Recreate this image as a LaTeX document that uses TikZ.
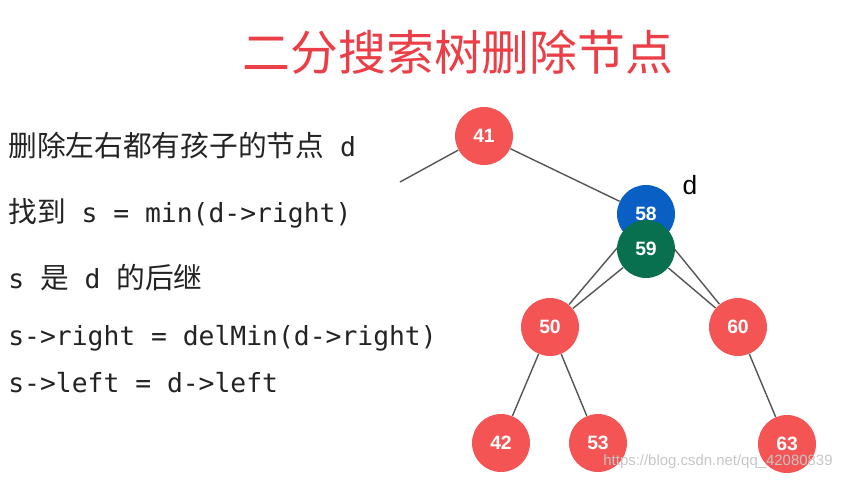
\documentclass[tikz,border=0pt]{standalone}
\usepackage{fontspec}
\setmainfont{Liberation Sans}
\setmonofont{DejaVu Sans Mono}
\newfontfamily\cjk[Scale=1.09]{Noto Sans CJK SC}
\usetikzlibrary{positioning,backgrounds}

\definecolor{titlered}{RGB}{236,62,70}
\definecolor{nodered}{RGB}{245,84,84}
\definecolor{nodeblue}{RGB}{10,95,196}
\definecolor{nodegreen}{RGB}{8,112,78}
\definecolor{textgray}{RGB}{35,35,35}
\definecolor{edgegray}{RGB}{85,85,85}

\begin{document}
\begin{tikzpicture}[x=0.02cm,y=-0.02cm,
  bst/.style={circle,inner sep=0pt,minimum size=1.16cm,text=white,
    font=\fontsize{11}{13}\selectfont\bfseries},
  edge/.style={draw=edgegray,line width=0.8pt},
  codeline/.style={anchor=base west,inner sep=0pt,text=textgray,
    font=\fontsize{15}{18}\selectfont\ttfamily}]
\useasboundingbox (0,0) rectangle (850,481);

% title
\node[text=titlered,font=\fontsize{25}{30}\selectfont\cjk] (title) at (458,52) {二分搜索树删除节点};

% steps on the left
\node[codeline] (l1) at (8,156) {{\cjk 删除左右都有孩子的节点} d};
\node[codeline] (l2) at (8,222) {{\cjk 找到} s = min(d->right)};
\node[codeline] (l3) at (8,288) {s {\cjk 是} d {\cjk 的后继}};
\node[codeline] (l4) at (8,345) {s->right = delMin(d->right)};
\node[codeline] (l5) at (8,392) {s->left = d->left};

% tree
\node[bst,fill=nodered] (n41) at (484,136) {41};
\node[bst,fill=nodered] (n50) at (550,327) {50};
\node[bst,fill=nodered] (n60) at (738,327) {60};
\node[bst,fill=nodered] (n42) at (501,443) {42};
\node[bst,fill=nodered] (n53) at (598,443) {53};
\node[bst,fill=nodered] (n63) at (787,444) {63};
\node[bst,fill=nodeblue] (n58) at (646,214) {58};
\node[bst,fill=nodegreen] (n59) at (646,249) {59};
\node[font=\fontsize{15}{18}\selectfont] (dlabel) at (690,185) {d};
\coordinate (up) at (400,182);

\begin{scope}[on background layer]
\path[edge] (n41) -- (up);
\path[edge] (n41) -- (n58);
\path[edge] (n58) -- (n50);
\path[edge] (n58) -- (n60);
\path[edge] (n59) -- (n50);
\path[edge] (n59) -- (n60);
\path[edge] (n50) -- (n42);
\path[edge] (n50) -- (n53);
\path[edge] (n60) -- (n63);
\end{scope}

% watermark
\node[text=gray!45,font=\fontsize{8.5}{10}\selectfont] (mark) at (718,462) {https://blog.csdn.net/qq\_42080839};
\end{tikzpicture}
\end{document}
